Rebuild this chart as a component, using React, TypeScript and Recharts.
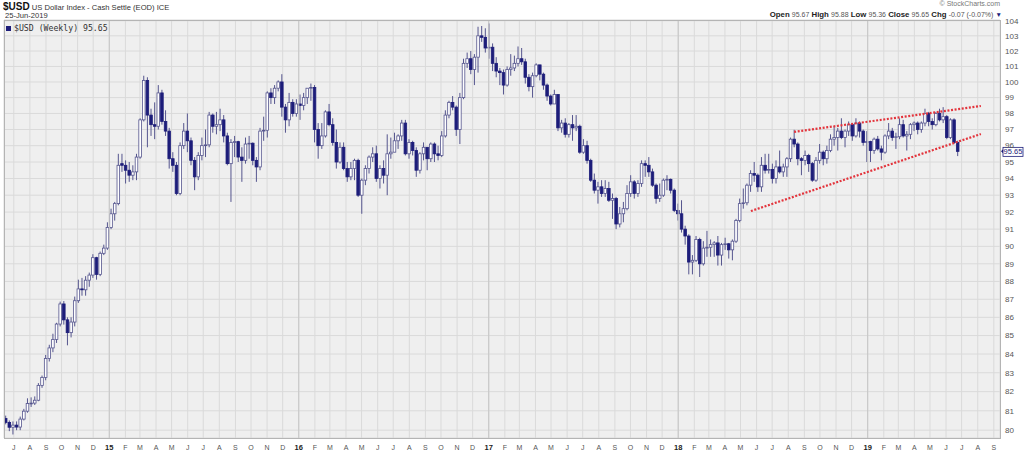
import React from "react";
import { ComposedChart, Bar, XAxis, YAxis, CartesianGrid, ReferenceLine } from "recharts";

// weekly candles, first week starts Mon 16-Jun-2014, last is week of 24-Jun-2019
const opens = [
  80.6, 80.4, 80.15, 80.26, 80.16, 80.57, 80.98, 81.38, 81.4, 81.55, // 0
  82.33, 82.75, 83.76, 84.33, 84.79, 85.63, 86.74, 85.86, 85.16, 85.74, // 10
  86.92, 87.58, 87.53, 88.07, 88.36, 89.35, 88.4, 89.6, 89.9, 91.1, // 20
  91.9, 92.5, 94.9, 94.8, 94.5, 94.2, 94.4, 95.3, 97.6, 100.1, // 30
  97.9, 97.3, 97.2, 99.3, 97.5, 96.9, 95.2, 94.8, 93.1, 96.0, // 40
  96.9, 96.3, 95.1, 94.1, 95.4, 96.0, 96.05, 97.9, 97.2, 97.3, // 50
  97.6, 96.6, 94.9, 96.2, 96.25, 95.3, 95.1, 96.1, 96.15, 95.1, // 60
  94.7, 96.9, 96.95, 99.3, 99.0, 99.6, 100.0, 98.4, 97.6, 98.7, // 70
  98.0, 98.6, 98.5, 99.0, 99.6, 99.65, 97.0, 96.0, 96.6, 98.1, // 80
  97.3, 96.2, 95.0, 95.9, 94.6, 94.1, 94.6, 95.1, 93.0, 93.9, // 90
  94.6, 95.3, 95.5, 94.0, 94.6, 94.2, 95.5, 95.6, 96.3, 96.6, // 100
  97.4, 95.5, 96.2, 95.7, 94.5, 95.5, 95.9, 95.2, 96.1, 95.5, // 110
  95.4, 96.6, 97.9, 98.7, 98.4, 97.0, 99.0, 101.2, 101.5, 100.8, // 120
  101.6, 103.0, 102.9, 102.2, 102.25, 101.2, 100.7, 100.6, 99.8, 100.8, // 130
  100.9, 101.2, 101.5, 101.3, 100.3, 99.7, 100.4, 101.1, 100.5, 99.8, // 140
  99.1, 98.6, 99.2, 97.1, 97.4, 96.7, 97.3, 97.1, 97.2, 95.6, // 150
  96.0, 95.1, 93.9, 93.3, 93.5, 93.1, 93.4, 92.7, 92.8, 91.3, // 160
  91.9, 92.2, 93.1, 93.8, 93.1, 93.7, 94.9, 94.8, 94.4, 93.6, // 170
  92.8, 93.0, 93.9, 93.95, 93.3, 92.1, 91.9, 91.0, 90.6, 89.1, // 180
  89.2, 90.4, 89.0, 89.9, 89.95, 90.1, 90.2, 89.5, 90.1, 90.15, // 190
  89.8, 90.3, 91.5, 92.5, 92.55, 93.6, 94.3, 94.2, 93.5, 94.8, // 200
  94.5, 94.55, 94.0, 94.7, 94.4, 94.7, 95.2, 96.4, 96.1, 95.2, // 210
  95.1, 95.4, 94.9, 93.9, 95.1, 95.6, 95.2, 95.7, 96.4, 96.5, // 220
  96.9, 96.5, 96.9, 97.3, 96.6, 97.4, 96.9, 96.2, 96.25, 95.7, // 230
  96.4, 95.8, 95.6, 96.6, 96.9, 96.5, 96.55, 97.3, 96.6, 96.7, // 240
  97.3, 97.4, 97.0, 97.4, 98.0, 97.5, 97.3, 98.0, 97.6, 97.8, // 250
  96.5, 97.6, 96.2, // 260
];
const highs = [
  80.75, 80.5, 80.45, 80.45, 80.7, 81.1, 81.65, 81.7, 81.75, 82.45,
  82.85, 83.95, 84.5, 85.1, 85.7, 86.87, 86.9, 86.0, 86.0, 87.15,
  88.1, 88.2, 88.3, 88.5, 89.55, 89.4, 89.7, 90.1, 91.4, 92.2,
  92.6, 95.5, 95.5, 95.1, 95.0, 94.8, 95.5, 97.7, 100.4, 100.3,
  98.3, 98.7, 99.8, 99.5, 98.2, 97.1, 95.6, 95.0, 96.2, 97.4,
  98.0, 96.5, 95.3, 95.6, 96.5, 97.0, 98.1, 98.0, 98.1, 98.3,
  97.9, 96.8, 96.4, 96.6, 96.3, 95.9, 96.5, 96.6, 96.2, 95.3,
  97.1, 97.8, 99.4, 99.6, 99.8, 100.1, 100.5, 98.6, 99.3, 98.9,
  98.9, 99.2, 99.3, 99.6, 99.9, 99.8, 97.4, 97.4, 98.2, 98.6,
  97.7, 97.0, 96.2, 96.2, 95.0, 95.0, 95.2, 95.2, 94.0, 94.8,
  95.4, 95.9, 96.0, 94.8, 95.1, 96.7, 96.5, 96.8, 96.7, 97.6,
  97.6, 96.4, 96.3, 95.9, 95.6, 96.2, 95.9, 96.2, 96.2, 96.0,
  96.9, 98.2, 98.8, 99.1, 98.5, 99.3, 101.5, 101.9, 102.0, 101.8,
  103.6, 103.65, 103.5, 103.82, 102.5, 101.6, 100.9, 100.8, 101.0, 101.8,
  101.7, 102.3, 102.2, 101.5, 100.5, 100.6, 101.2, 101.1, 100.6, 99.9,
  99.2, 99.5, 99.2, 97.6, 97.7, 97.4, 97.9, 97.9, 97.3, 96.4,
  96.3, 95.2, 94.3, 93.8, 93.9, 93.9, 93.8, 93.1, 92.9, 92.3,
  92.6, 93.6, 94.2, 93.9, 93.9, 95.1, 95.1, 95.3, 94.6, 93.7,
  93.7, 94.0, 94.2, 94.0, 93.4, 92.5, 92.7, 91.2, 90.7, 89.5,
  90.6, 90.5, 90.3, 90.9, 90.4, 90.3, 90.6, 90.2, 90.5, 90.2,
  90.4, 91.6, 92.8, 93.4, 93.7, 94.5, 95.0, 94.3, 95.3, 95.5,
  95.5, 94.9, 95.1, 95.7, 94.9, 95.3, 96.5, 96.98, 96.2, 95.3,
  95.7, 95.5, 95.0, 95.3, 96.1, 95.7, 96.0, 96.7, 97.2, 97.1,
  97.7, 97.0, 97.5, 97.4, 97.7, 97.5, 97.0, 96.9, 96.3, 96.5,
  96.6, 96.0, 96.7, 97.4, 97.1, 96.8, 97.7, 97.6, 96.9, 97.4,
  97.5, 97.5, 97.5, 98.3, 98.1, 97.7, 98.1, 98.3, 98.4, 97.9,
  97.7, 97.7, 96.3,
];
const lows = [
  80.3, 79.95, 79.78, 80.0, 80.0, 80.5, 80.9, 81.2, 81.3, 81.5,
  82.2, 82.6, 83.6, 84.1, 84.6, 85.5, 85.6, 84.47, 84.9, 85.5,
  86.8, 87.2, 87.2, 87.7, 88.2, 88.1, 88.3, 89.5, 89.8, 91.0,
  91.5, 92.4, 94.4, 93.7, 93.8, 93.9, 93.9, 95.2, 97.5, 95.9,
  96.6, 96.4, 97.0, 97.3, 96.6, 94.6, 94.4, 93.0, 93.0, 95.8,
  95.6, 94.8, 93.3, 93.9, 95.1, 95.3, 95.9, 96.8, 96.7, 96.9,
  96.2, 94.8, 92.6, 95.3, 95.0, 93.8, 94.9, 95.2, 94.8, 93.8,
  94.5, 96.3, 96.5, 98.6, 98.6, 99.4, 97.8, 96.8, 97.2, 97.8,
  97.8, 97.6, 98.2, 98.6, 98.8, 96.2, 95.2, 95.8, 96.5, 97.2,
  96.0, 94.6, 94.9, 94.5, 93.8, 93.9, 93.9, 92.9, 91.9, 93.6,
  94.3, 95.0, 93.8, 93.4, 93.7, 93.0, 95.2, 95.6, 95.8, 96.3,
  95.4, 95.2, 95.4, 94.1, 94.3, 95.1, 94.5, 95.0, 95.0, 95.1,
  95.3, 96.5, 97.7, 98.2, 96.6, 96.1, 98.9, 100.9, 100.5, 99.8,
  100.6, 102.6, 101.9, 101.5, 100.7, 100.3, 99.8, 99.2, 99.7, 100.4,
  100.7, 101.0, 101.1, 99.9, 99.4, 99.0, 100.3, 100.1, 99.5, 98.8,
  98.5, 98.6, 96.9, 96.8, 96.5, 96.5, 96.3, 96.9, 95.5, 95.5,
  94.9, 93.8, 93.1, 92.5, 92.9, 92.9, 92.6, 91.6, 91.0, 91.1,
  91.4, 92.1, 92.9, 92.8, 92.9, 93.5, 94.1, 94.1, 93.5, 92.5,
  92.6, 92.9, 93.3, 93.1, 92.0, 91.5, 90.8, 90.1, 88.4, 88.4,
  89.1, 88.25, 88.9, 89.4, 89.4, 89.4, 88.9, 88.9, 89.8, 89.3,
  89.2, 90.2, 91.4, 92.2, 92.4, 93.2, 93.8, 93.2, 93.2, 94.3,
  94.3, 93.7, 93.7, 94.3, 94.1, 94.1, 95.0, 95.9, 94.8, 94.2,
  94.8, 94.4, 93.8, 93.8, 94.9, 94.8, 94.9, 95.6, 96.0, 95.7,
  96.4, 95.9, 96.6, 96.3, 96.5, 96.5, 96.0, 95.0, 95.0, 95.5,
  95.7, 95.1, 95.5, 96.4, 96.3, 95.8, 96.4, 96.5, 95.7, 96.4,
  96.9, 96.7, 96.8, 97.2, 97.2, 97.0, 97.2, 97.5, 97.4, 96.4,
  96.4, 96.1, 95.36,
];
const closes = [
  80.4, 80.15, 80.26, 80.16, 80.57, 80.98, 81.38, 81.4, 81.55, 82.33,
  82.75, 83.76, 84.33, 84.79, 85.63, 86.74, 85.86, 85.16, 85.74, 86.92,
  87.58, 87.53, 88.07, 88.36, 89.35, 88.4, 89.6, 89.9, 91.1, 91.9,
  92.5, 94.8, 94.8, 94.5, 94.2, 94.4, 95.3, 97.6, 100.1, 97.9,
  97.3, 97.2, 99.3, 97.5, 96.9, 95.2, 94.8, 93.1, 96.0, 96.9,
  96.3, 95.1, 94.1, 95.4, 96.0, 96.05, 97.9, 97.2, 97.3, 97.6,
  96.6, 94.9, 96.2, 96.25, 95.3, 95.1, 96.1, 96.15, 95.1, 94.7,
  96.9, 96.95, 99.3, 99.0, 99.6, 100.0, 98.4, 97.6, 98.7, 98.0,
  98.6, 98.5, 99.0, 99.6, 99.65, 97.0, 96.0, 96.6, 98.1, 97.3,
  96.2, 95.0, 95.9, 94.6, 94.1, 94.6, 95.1, 93.0, 93.9, 94.6,
  95.3, 95.5, 94.0, 94.6, 94.2, 95.5, 95.6, 96.3, 96.6, 97.4,
  95.5, 96.2, 95.7, 94.5, 95.5, 95.9, 95.2, 96.1, 95.5, 95.4,
  96.6, 97.9, 98.7, 98.4, 97.0, 99.0, 101.2, 101.5, 100.8, 101.6,
  103.0, 102.9, 102.2, 102.25, 101.2, 100.7, 100.6, 99.8, 100.8, 100.9,
  101.2, 101.5, 101.3, 100.3, 99.7, 100.4, 101.1, 100.5, 99.8, 99.1,
  98.6, 99.2, 97.1, 97.4, 96.7, 97.3, 97.1, 97.2, 95.6, 96.0,
  95.1, 93.9, 93.3, 93.5, 93.1, 93.4, 92.7, 92.8, 91.3, 91.9,
  92.2, 93.1, 93.8, 93.1, 93.7, 94.9, 94.8, 94.4, 93.6, 92.8,
  93.0, 93.9, 93.95, 93.3, 92.1, 91.9, 91.0, 90.6, 89.1, 89.2,
  90.4, 89.0, 89.9, 89.95, 90.1, 90.2, 89.5, 90.1, 90.15, 89.8,
  90.3, 91.5, 92.5, 92.55, 93.6, 94.3, 94.2, 93.5, 94.8, 94.5,
  94.55, 94.0, 94.7, 94.4, 94.7, 95.2, 96.4, 96.1, 95.2, 95.1,
  95.4, 94.9, 93.9, 95.1, 95.6, 95.2, 95.7, 96.4, 96.5, 96.9,
  96.5, 96.9, 97.3, 96.6, 97.4, 96.9, 96.2, 96.25, 95.7, 96.4,
  95.8, 95.6, 96.6, 96.9, 96.5, 96.55, 97.3, 96.6, 96.7, 97.3,
  97.4, 97.0, 97.4, 98.0, 97.5, 97.3, 98.0, 97.6, 97.8, 96.5,
  97.6, 96.2, 95.65,
];

const yTicks = [80, 81, 82, 83, 84, 85, 86, 87, 88, 89, 90, 91, 92, 93, 94, 95, 96, 97, 98, 99, 100, 101, 102, 103, 104];
const MONTH_LETTERS = ["J", "F", "M", "A", "M", "J", "J", "A", "S", "O", "N", "D"];

// dotted wedge lines drawn on the chart (x = week index, y = price)
const upperLine = [{ x: 216.9, y: 96.85 }, { x: 268.3, y: 98.47 }];
const lowerLine = [{ x: 205.0, y: 92.06 }, { x: 268.3, y: 96.72 }];
const lastClose = 95.65;

const START = Date.UTC(2014, 5, 16);
const WEEK = 7 * 86400000;

const candles = opens.map((o, i) => ({
  i,
  open: o,
  high: highs[i],
  low: lows[i],
  close: closes[i],
  range: [lows[i], highs[i]],
}));

// month gridlines / labels, Jul 2014 .. Sep 2019
const monthTicks: { pos: number; text: string; year: boolean }[] = [];
for (let k = 0; k < 63; k++) {
  const y = 2014 + Math.floor((6 + k) / 12);
  const m = (6 + k) % 12;
  monthTicks.push({
    pos: (Date.UTC(y, m, 1) - START) / WEEK,
    text: m === 0 ? String(y).slice(2) : MONTH_LETTERS[m],
    year: m === 0,
  });
}
const yearTicks = monthTicks.filter((t) => t.year).map((t) => t.pos);

const NAVY = "#1d1d7a";
const WICK = "#55558e";
const FONT = "'Liberation Sans', Arial, sans-serif";

function renderCandle(props: any) {
  const { x, y, width, height, payload } = props;
  if (!payload || height == null) return <g />;
  const { open, close, high, low } = payload;
  const top = Math.min(y, y + height);
  const h = Math.abs(height);
  const lh = Math.log(high);
  const ll = Math.log(low);
  const py = (v: number) => top + ((lh - Math.log(v)) / (lh - ll)) * h;
  const cx = x + width / 2;
  const up = close >= open;
  const yo = py(open);
  const yc = py(close);
  const bt = Math.min(yo, yc);
  const bh = Math.max(0.8, Math.abs(yc - yo));
  return (
    <g>
      <line x1={cx} x2={cx} y1={top} y2={top + h} stroke={WICK} strokeWidth={1} />
      <rect
        x={cx - 1.3}
        y={bt}
        width={2.6}
        height={bh}
        fill={up ? "#ffffff" : NAVY}
        stroke={up ? WICK : NAVY}
        strokeWidth={0.8}
      />
    </g>
  );
}

function MonthTick(props: any) {
  const { x, y, payload } = props;
  const t = monthTicks.find((m) => Math.abs(m.pos - payload.value) < 1e-6);
  if (!t) return <g />;
  return (
    <text
      x={x}
      y={y + 10}
      textAnchor="middle"
      fontSize={t.year ? 7.5 : 7}
      fontWeight={t.year ? "bold" : "normal"}
      fill={t.year ? "#222" : "#555"}
      fontFamily={FONT}
    >
      {t.text}
    </text>
  );
}

function PriceTag(props: any) {
  const vb = props.viewBox || {};
  const x0 = (vb.x || 0) + (vb.width || 0);
  const y0 = vb.y || 0;
  return (
    <g>
      <path d={`M${x0 + 1} ${y0} L${x0 + 4} ${y0 - 3} L${x0 + 4} ${y0 + 3} Z`} fill={NAVY} />
      <rect x={x0 + 3} y={y0 - 4} width={20} height={9} fill="#fff" stroke={NAVY} strokeWidth={0.8} />
      <text x={x0 + 13} y={y0 + 3} textAnchor="middle" fontSize={7.5} fill={NAVY} fontFamily={FONT}>
        {lastClose.toFixed(2)}
      </text>
    </g>
  );
}

export default function App() {
  return (
    <div style={{ position: "absolute", left: 0, top: 0, width: 1024, height: 454, background: "#fff", fontFamily: FONT }}>
      <div style={{ position: "absolute", left: 3, top: 1, fontSize: 7.6, color: "#333", whiteSpace: "nowrap" }}>
        <span style={{ fontSize: 10, fontWeight: "bold", color: "#111" }}>$USD</span> US Dollar Index - Cash Settle (EOD) ICE
      </div>
      <div style={{ position: "absolute", left: 5, top: 11, fontSize: 7.6, color: "#333" }}>25-Jun-2019</div>
      <div style={{ position: "absolute", right: 24, top: 0, fontSize: 7, color: "#777" }}>© StockCharts.com</div>
      <div style={{ position: "absolute", right: 22, top: 10, fontSize: 7.8, color: "#222", whiteSpace: "nowrap" }}>
        <b>Open</b> <span style={{ fontSize: 7, color: "#555" }}>95.67</span> <b>High</b>{" "}
        <span style={{ fontSize: 7, color: "#555" }}>95.88</span> <b>Low</b>{" "}
        <span style={{ fontSize: 7, color: "#555" }}>95.36</span> <b>Close</b>{" "}
        <span style={{ fontSize: 7, color: "#555" }}>95.65</span> <b>Chg</b>{" "}
        <span style={{ fontSize: 7, color: "#555" }}>-0.07 (-0.07%)</span>{" "}
        <span style={{ fontSize: 6.5, color: NAVY }}>▼</span>
      </div>
      <ComposedChart
        width={1024}
        height={454}
        data={candles}
        margin={{ top: 20, right: 0, bottom: 0, left: 4 }}
        style={{ position: "absolute", left: 0, top: 0 }}
      >
        <CartesianGrid fill="#efefef" stroke="#dadada" strokeWidth={1} />
        <XAxis
          type="number"
          dataKey="i"
          domain={[-0.55, 273.56]}
          allowDataOverflow
          ticks={monthTicks.map((t) => t.pos)}
          interval={0}
          tickLine={false}
          axisLine={false}
          tickSize={0}
          height={16}
          tick={<MonthTick />}
        />
        <YAxis
          orientation="right"
          scale="log"
          domain={[79.6, 104.05]}
          allowDataOverflow
          ticks={yTicks}
          interval={0}
          tickLine={false}
          axisLine={false}
          tickSize={0}
          tickMargin={5}
          width={24}
          tick={{ fontSize: 8, fill: "#555", fontFamily: FONT }}
        />
        {yearTicks.map((p) => (
          <ReferenceLine key={p} x={p} stroke="#c6c6c6" strokeWidth={1} />
        ))}
        <Bar dataKey="range" barSize={3} shape={renderCandle} isAnimationActive={false} />
        <ReferenceLine
          segment={upperLine}
          stroke="#e3343c"
          strokeWidth={2.2}
          strokeDasharray="2 1.6"
          ifOverflow="visible"
        />
        <ReferenceLine
          segment={lowerLine}
          stroke="#e3343c"
          strokeWidth={2.2}
          strokeDasharray="2 1.6"
          ifOverflow="visible"
        />
        <ReferenceLine y={lastClose} stroke="none" ifOverflow="visible" label={<PriceTag />} />
      </ComposedChart>
      <div
        style={{
          position: "absolute",
          left: 4,
          top: 20,
          width: 995,
          height: 417,
          border: "1px solid #b4b4b4",
          pointerEvents: "none",
        }}
      />
      <div style={{ position: "absolute", left: 6, top: 23, display: "flex", alignItems: "center", pointerEvents: "none" }}>
        <div style={{ width: 5, height: 5, background: NAVY, marginRight: 3 }} />
        <span style={{ fontFamily: "'DejaVu Sans Mono', monospace", fontSize: 8.2, color: "#333" }}>$USD (Weekly) 95.65</span>
      </div>
    </div>
  );
}
